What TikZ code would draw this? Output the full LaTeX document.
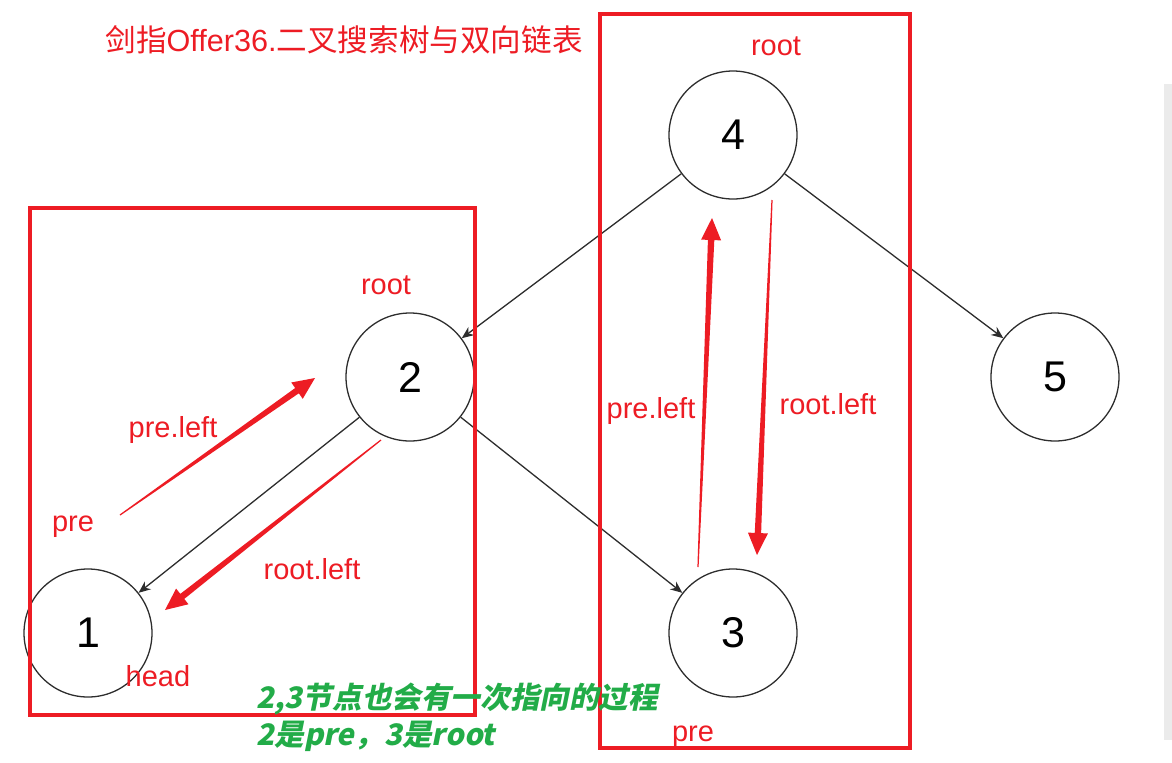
\documentclass[tikz,border=0pt]{standalone}
\usepackage{fontspec}
\setmainfont{Liberation Sans}
\newfontfamily\cjk{Noto Sans CJK SC}
\newfontfamily\cjkbi{Noto Sans CJK SC}[FakeSlant=0.2]
\usetikzlibrary{calc,arrows.meta}

\definecolor{notered}{RGB}{237,28,36}
\definecolor{notegreen}{RGB}{34,172,72}
\definecolor{edgegray}{RGB}{45,45,45}

% tapered red arrow from #1 (tail) to #2 (tip)
\newcommand{\taparrow}[2]{%
	\coordinate (#1-neck) at ($(#2)!11pt!(#1)$);
	\fill[notered] ($(#1)!0.3pt!90:(#2)$) -- ($(#1-neck)!1.6pt!-90:(#1)$) -- ($(#1-neck)!5pt!-90:(#1)$) -- (#2)
		-- ($(#1-neck)!5pt!90:(#1)$) -- ($(#1-neck)!1.6pt!90:(#1)$) -- ($(#1)!0.3pt!-90:(#2)$) -- cycle;
}

\begin{document}
\begin{tikzpicture}[x=0.5pt, y=-0.5pt,
	main/.style = {draw=edgegray, circle, line width=0.65pt, minimum size=64pt, inner sep=0pt, font=\fontsize{21.5}{24}\selectfont},
	edge/.style = {draw=edgegray, line width=0.65pt, -{Stealth[length=6pt,width=5pt]}},
	box/.style = {draw=notered, line width=1.6pt},
	note/.style = {text=notered, font=\fontsize{14.5}{17}\selectfont, inner sep=0pt},
	green/.style = {text=notegreen, font=\cjkbi\bfseries\fontsize{14.8}{17}\selectfont, inner sep=0pt, anchor=west}]

	\useasboundingbox (0,0) rectangle (1172,762);
	\fill[black!8] (1164,84) rectangle (1172,740);

	\node[main] (n4) at (733,135) {4};
	\node[main] (n2) at (410,377) {2};
	\node[main] (n5) at (1055,377) {5};
	\node[main] (n1) at (88,633) {1};
	\node[main] (n3) at (733,633) {3};

	\draw[edge] (n4) -- (n2);
	\draw[edge] (n4) -- (n5);
	\draw[edge] (n2) -- (n1);
	\draw[edge] (n2) -- (n3);

	\draw[box] (30,208) rectangle (475,715);
	\draw[box] (600,14) rectangle (910,748);

	\coordinate (plA) at (120,515);
	\coordinate (plB) at (315,378);
	\coordinate (rlA) at (381,440);
	\coordinate (rlB) at (165,610);
	\coordinate (prA) at (698,567);
	\coordinate (prB) at (712,218);
	\coordinate (rrA) at (772,200);
	\coordinate (rrB) at (757,555);
	\taparrow{plA}{plB}
	\taparrow{rlA}{rlB}
	\taparrow{prA}{prB}
	\taparrow{rrA}{rrB}

	\node[note, anchor=west, font=\fontsize{15.3}{18}\selectfont] (title) at (105,40) {\cjk 剑指\fontspec{Liberation Sans}Offer36.\cjk 二叉搜索树与双向链表};
	\node[note] (root4) at (776,46) {root};
	\node[note] (root2) at (386,285) {root};
	\node[note] (preleft1) at (173,430) {pre.left};
	\node[note] (pre1) at (73,527) {pre};
	\node[note] (rootleft1) at (312,569) {root.left};
	\node[note] (head) at (158,676) {head};
	\node[note] (preleft2) at (651,411) {pre.left};
	\node[note] (rootleft2) at (828,404) {root.left};
	\node[note] (pre2) at (693,737) {pre};

	\node[green] (hint1) at (256,699) {2,3节点也会有一次指向的过程};
	\node[green] (hint2) at (256,736) {2是pre，3是root};
\end{tikzpicture}
\end{document}
